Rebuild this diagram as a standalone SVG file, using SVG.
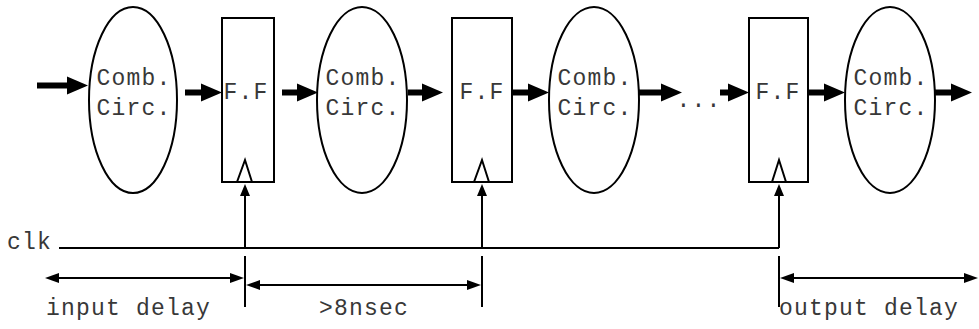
<svg xmlns="http://www.w3.org/2000/svg" width="979" height="329" viewBox="0 0 979 329">
<style>
.sh{fill:#fff;stroke:#000;stroke-width:2}
.t{font-family:"Liberation Mono","Courier New",monospace;font-size:23px;letter-spacing:1.2px;fill:#383838}
.m{text-anchor:middle}
.flow{stroke:#000;stroke-width:6;fill:none;marker-end:url(#big)}
.clk{stroke:#000;stroke-width:2;fill:none}
.ca{marker-end:url(#small)}
.dim{stroke:#000;stroke-width:2;fill:none;marker-start:url(#dh);marker-end:url(#dh)}
</style>
<defs>
<marker id="big" markerUnits="userSpaceOnUse" markerWidth="22" markerHeight="18" refX="0" refY="9" orient="auto" overflow="visible"><path d="M0,0 L21,9 L0,18 z" fill="#000"/></marker>
<marker id="small" markerUnits="userSpaceOnUse" markerWidth="12" markerHeight="10" refX="0" refY="5" orient="auto" overflow="visible"><path d="M0,0 L12,5 L0,10 z" fill="#000"/></marker>
<marker id="dh" markerUnits="userSpaceOnUse" markerWidth="14" markerHeight="10" refX="0" refY="5" orient="auto-start-reverse" overflow="visible"><path d="M0,0 L14,5 L0,10 z" fill="#000"/></marker>
</defs>
<rect width="979" height="329" fill="#fff"/>
<g id="comb1"><ellipse class="sh" cx="133" cy="100" rx="44" ry="93"/><text class="t m" x="134" y="85">Comb.</text><text class="t m" x="134" y="115">Circ.</text></g>
<g id="ff1"><rect class="sh" x="222" y="18" width="52" height="164"/><path class="clk" d="M237,182 L245,160 L252,182"/><text class="t m" x="246" y="99">F.F</text></g>
<g id="comb2"><ellipse class="sh" cx="362" cy="100" rx="45" ry="93"/><text class="t m" x="363" y="85">Comb.</text><text class="t m" x="363" y="115">Circ.</text></g>
<g id="ff2"><rect class="sh" x="452" y="18" width="60" height="164"/><path class="clk" d="M474,182 L482,160 L489,182"/><text class="t m" x="482" y="99">F.F</text></g>
<g id="comb3"><ellipse class="sh" cx="594" cy="100" rx="45" ry="93"/><text class="t m" x="595" y="85">Comb.</text><text class="t m" x="595" y="115">Circ.</text></g>
<g id="dots"><text class="t m" x="699" y="107">...</text></g>
<g id="ff3"><rect class="sh" x="749" y="18" width="59" height="164"/><path class="clk" d="M772,182 L779,160 L786,182"/><text class="t m" x="778" y="99">F.F</text></g>
<g id="comb4"><ellipse class="sh" cx="890" cy="100" rx="45" ry="93"/><text class="t m" x="891" y="85">Comb.</text><text class="t m" x="891" y="115">Circ.</text></g>
<g id="clock"><text class="t" x="7" y="249">clk</text></g>
<g id="connectors">
<line class="flow" x1="37" y1="85.5" x2="67" y2="85.5"/>
<line class="flow" x1="185" y1="92.5" x2="201" y2="92.5"/>
<line class="flow" x1="282" y1="92.5" x2="297" y2="92.5"/>
<line class="flow" x1="408" y1="92.5" x2="422" y2="92.5"/>
<line class="flow" x1="512" y1="92.5" x2="528" y2="92.5"/>
<line class="flow" x1="638" y1="92.5" x2="661" y2="92.5"/>
<line class="flow" x1="720" y1="92.5" x2="728" y2="92.5"/>
<line class="flow" x1="808" y1="92.5" x2="824" y2="92.5"/>
<line class="flow" x1="935" y1="92.5" x2="951" y2="92.5"/>
<path class="clk" d="M59,248 L779,248"/>
<line class="clk ca" x1="245" y1="248" x2="245" y2="196"/>
<line class="clk ca" x1="482" y1="248" x2="482" y2="196"/>
<line class="clk ca" x1="779" y1="248" x2="779" y2="196"/>
<path class="clk" d="M245,256 V307 M482,256 V307 M779,256 V307"/>
<line class="dim" x1="59" y1="278" x2="230" y2="278"/>
<line class="dim" x1="260" y1="285" x2="467" y2="285"/>
<line class="dim" x1="794" y1="278" x2="964" y2="278"/>
</g>
<g id="labels">
<text class="t" x="46" y="315">input delay</text>
<text class="t" x="319" y="315">&gt;8nsec</text>
<text class="t" x="779" y="315">output delay</text>
</g>
</svg>
